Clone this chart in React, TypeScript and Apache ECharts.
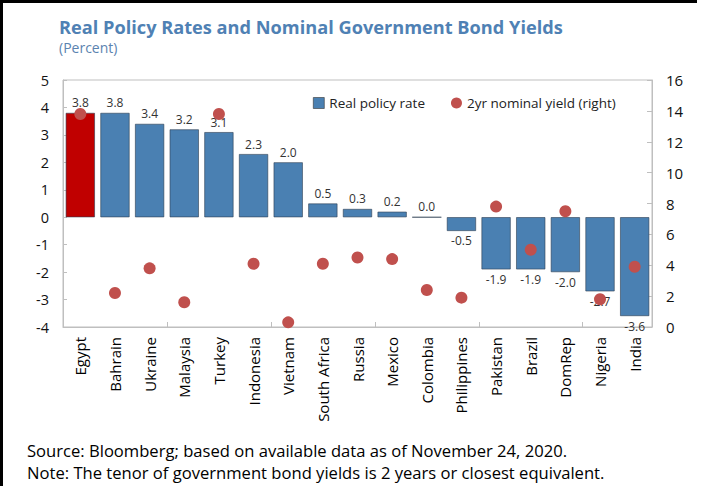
import React, { useEffect, useRef } from "react";
import * as echarts from "echarts";

const categories = [
  "Egypt", "Bahrain", "Ukraine", "Malaysia", "Turkey", "Indonesia", "Vietnam",
  "South Africa", "Russia", "Mexico", "Colombia", "Philippines", "Pakistan",
  "Brazil", "DomRep", "Nigeria", "India",
];
const realPolicyRate = [3.8, 3.8, 3.4, 3.2, 3.1, 2.3, 2.0, 0.5, 0.3, 0.2, 0.0, -0.5, -1.9, -1.9, -2.0, -2.7, -3.6];
const nominalYield2yr = [13.8, 2.2, 3.8, 1.6, 13.8, 4.1, 0.3, 4.1, 4.5, 4.4, 2.4, 1.9, 7.8, 5.0, 7.5, 1.8, 3.9];
const highlighted = ["Egypt"];

const TITLE = "Real Policy Rates and Nominal Government Bond Yields";
const SUBTITLE = "(Percent)";
const SOURCE = "Source: Bloomberg; based on available data as of November 24, 2020.";
const NOTE = "Note: The tenor of government bond yields is 2 years or closest equivalent.";

const FONT = "'Open Sans', 'Noto Sans', sans-serif";
const BLUE = "#4a80b2";
const RED_DOT = "#c0504d";
const RED_BAR = "#c00000";
const GRID_LINE = "#bfbfbf";

export default function App() {
  const ref = useRef<HTMLDivElement>(null);
  useEffect(() => {
    if (!ref.current) return;
    const chart = echarts.init(ref.current, undefined, { renderer: "svg" });
    const barData = realPolicyRate.map((v, i) => ({
      value: v,
      label: { position: v < 0 ? "bottom" : "top" },
      itemStyle: highlighted.includes(categories[i]) ? { color: RED_BAR } : undefined,
    }));
    chart.setOption({
      animation: false,
      textStyle: { fontFamily: FONT },
      grid: {
        left: 63, right: 58, top: 80, bottom: 159,
        show: true, borderColor: GRID_LINE, borderWidth: 1, backgroundColor: "transparent",
      },
      legend: {
        top: 91, left: 308,
        itemWidth: 11, itemHeight: 11, itemGap: 26,
        textStyle: { fontFamily: FONT, fontSize: 13.5, color: "#222" },
        data: [
          { name: "Real policy rate", icon: "rect", itemStyle: { color: BLUE, borderColor: "#333", borderWidth: 0.6 } },
          { name: "2yr nominal yield (right)", icon: "circle" },
        ],
      },
      xAxis: [
        {
          type: "category", data: categories, position: "bottom",
          axisLine: { show: false }, axisTick: { show: false },
          axisLabel: { rotate: 90, margin: 10, fontSize: 15, color: "#000", fontFamily: FONT, interval: 0 },
        },
        {
          type: "category", data: categories, position: "bottom",
          axisLine: { show: true, onZero: true, lineStyle: { color: GRID_LINE } },
          axisTick: { show: true, inside: true, length: 5, lineStyle: { color: GRID_LINE } },
          axisLabel: { show: false },
        },
      ],
      yAxis: [
        {
          type: "value", min: -4, max: 5, interval: 1, position: "left",
          splitLine: { show: false },
          axisLine: { show: true, lineStyle: { color: GRID_LINE } },
          axisTick: { show: true, inside: true, length: 4, lineStyle: { color: GRID_LINE } },
          axisLabel: { margin: 14, fontSize: 14.5, color: "#111", fontFamily: FONT },
        },
        {
          type: "value", min: 0, max: 16, interval: 2, position: "right",
          splitLine: { show: false },
          axisLine: { show: true, lineStyle: { color: GRID_LINE } },
          axisTick: { show: true, inside: true, length: 5, lineStyle: { color: GRID_LINE } },
          axisLabel: { margin: 14, fontSize: 15, color: "#111", fontFamily: FONT },
        },
      ],
      series: [
        {
          name: "Real policy rate", type: "bar", xAxisIndex: 0, yAxisIndex: 0,
          data: barData, barCategoryGap: "16%",
          itemStyle: { color: BLUE, borderColor: "#2b3d50", borderWidth: 0.6 },
          label: {
            show: true, distance: 4, fontSize: 12, color: "#333", fontFamily: FONT,
            formatter: (p: any) => Number(p.value).toFixed(1),
          },
          z: 2,
        },
        {
          name: "2yr nominal yield (right)", type: "scatter", xAxisIndex: 0, yAxisIndex: 1,
          data: nominalYield2yr, symbol: "circle", symbolSize: 12,
          itemStyle: { color: RED_DOT, opacity: 1 },
          z: 3,
        },
      ],
      graphic: [
        { type: "line", shape: { x1: 0, y1: 1.5, x2: 697, y2: 1.5 }, style: { stroke: "#000", lineWidth: 3 } },
        { type: "line", shape: { x1: 1.5, y1: 0, x2: 1.5, y2: 486 }, style: { stroke: "#000", lineWidth: 3 } },
        { type: "text", left: 59, top: 18, style: { text: TITLE, font: `bold 18.2px ${FONT}`, fill: "#4f81b4" } },
        { type: "text", left: 59, top: 40, style: { text: SUBTITLE, font: `14px ${FONT}`, fill: "#5b83b0" } },
        { type: "text", left: 27, top: 442, style: { text: SOURCE, font: `16.6px ${FONT}`, fill: "#000" } },
        { type: "text", left: 27, top: 464, style: { text: NOTE, font: `16.6px ${FONT}`, fill: "#000" } },
      ],
    });
    return () => chart.dispose();
  }, []);
  return (
    <div
      ref={ref}
      style={{ position: "fixed", left: 0, top: 0, width: 710, height: 486, background: "#fff" }}
    />
  );
}
